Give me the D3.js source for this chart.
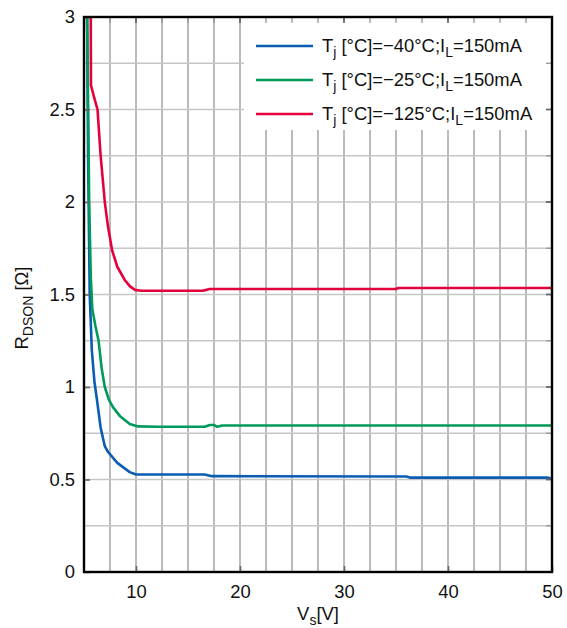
<!DOCTYPE html>
<html>
<head>
<meta charset="utf-8">
<script src="https://cdn.jsdelivr.net/npm/d3@7"></script>
<style>
  body { margin: 0; background: #fff; }
  text { font-family: "Liberation Sans", Arial, sans-serif; fill: #111; }
</style>
</head>
<body>
<svg></svg>
<script>
// R_DSON vs V_s
const blueData = [[5.3,3.0],[5.4,2.2],[5.55,1.5],[5.75,1.2],[6.0,1.03],[6.25,0.93],[6.6,0.78],[7.0,0.68],[7.3,0.65],[8.2,0.59],[9.4,0.54],[10,0.527],[16.6,0.527],[17.3,0.518],[36,0.516],[36.4,0.51],[49.5,0.51],[50,0.505]];
const greenData = [[5.3,3.0],[5.4,2.5],[5.5,2.0],[5.65,1.6],[5.8,1.42],[6.1,1.33],[6.4,1.25],[6.7,1.1],[7.0,1.0],[7.4,0.93],[7.8,0.89],[8.5,0.84],[9.4,0.80],[10.2,0.787],[12,0.785],[16.6,0.785],[17.1,0.795],[17.5,0.795],[17.8,0.785],[18.3,0.792],[25,0.792],[50,0.792]];
const redData = [[5.65,3.0],[5.67,2.63],[6.0,2.56],[6.3,2.5],[6.6,2.25],[7.0,2.0],[7.3,1.87],[7.7,1.74],[8.2,1.65],[8.9,1.58],[9.4,1.545],[9.9,1.525],[10.5,1.52],[16.4,1.52],[17.1,1.53],[35,1.53],[35.2,1.535],[50,1.535]];

const seriesTemps = ["\u221240", "\u221225", "\u2212125"];
const seriesColors = ["#0a5db3", "#009a5a", "#e4003b"];
const seriesData = [blueData, greenData, redData];

const xTicks = [10, 20, 30, 40, 50];
const yTicks = [0, 0.5, 1, 1.5, 2, 2.5, 3];

let width = 567;
let height = 628;
let pLeft = 84, pRight = 552, pTop = 17, pBottom = 572;
let svg = d3.select('svg').attr('width', width).attr('height', height);

let xScale = d3.scaleLinear().domain([5, 50]).range([pLeft, pRight]);
let yScale = d3.scaleLinear().domain([0, 3]).range([pBottom, pTop]);

const xGrid = d3.range(7.5, 50, 2.5);
const yGrid = d3.range(0.25, 3, 0.25);

// grid
svg.append('g').selectAll('line')
   .data(xGrid).enter().append('line')
   .attr('x1', d => xScale(d)).attr('x2', d => xScale(d))
   .attr('y1', pTop).attr('y2', pBottom)
   .attr('stroke', '#969696').attr('stroke-width', 1.3);

svg.append('g').selectAll('line')
   .data(yGrid).enter().append('line')
   .attr('x1', pLeft).attr('x2', pRight)
   .attr('y1', d => yScale(d)).attr('y2', d => yScale(d))
   .attr('stroke', '#c6c6c6').attr('stroke-width', 1.3);

// curves
const line = d3.line().x(d => xScale(d[0])).y(d => yScale(d[1]));
svg.append('g').selectAll('path')
   .data(seriesData).enter().append('path')
   .attr('d', d => line(d))
   .attr('fill', 'none')
   .attr('stroke', (d, i) => seriesColors[i])
   .attr('stroke-width', 2.6)
   .attr('stroke-linejoin', 'round');

// legend
svg.append('rect')
   .attr('x', 244).attr('y', pTop).attr('width', pRight - 244).attr('height', 113)
   .attr('fill', '#fff');

const legend = svg.append('g');
seriesTemps.forEach((t, i) => {
    let yy = 46 + i * 34;
    legend.append('line')
          .attr('x1', 256).attr('x2', 313).attr('y1', yy).attr('y2', yy)
          .attr('stroke', seriesColors[i]).attr('stroke-width', 2.6);
    let txt = legend.append('text')
          .attr('x', 322).attr('y', yy + 6)
          .style('font-size', '18.4px');
    txt.append('tspan').text('T');
    txt.append('tspan').text('j').attr('dy', 5).style('font-size', '14px');
    txt.append('tspan').text(' [\u00b0C]=' + t + '\u00b0C;I').attr('dy', -5);
    txt.append('tspan').text('L').attr('dy', 5).style('font-size', '14px');
    txt.append('tspan').text('=150mA').attr('dy', -5);
});

// minor tick stubs on top and right edges
svg.append('g').selectAll('line')
   .data(xGrid).enter().append('line')
   .attr('x1', d => xScale(d)).attr('x2', d => xScale(d))
   .attr('y1', pTop).attr('y2', pTop + 6)
   .attr('stroke', '#969696').attr('stroke-width', 1.3);
svg.append('g').selectAll('line')
   .data(yGrid).enter().append('line')
   .attr('x1', pRight - 6).attr('x2', pRight)
   .attr('y1', d => yScale(d)).attr('y2', d => yScale(d))
   .attr('stroke', '#969696').attr('stroke-width', 1.3);
svg.append('g').selectAll('line')
   .data(xTicks).enter().append('line')
   .attr('x1', d => xScale(d)).attr('x2', d => xScale(d))
   .attr('y1', pTop).attr('y2', pTop + 6)
   .attr('stroke', '#666').attr('stroke-width', 1.6);
svg.append('g').selectAll('line')
   .data(yTicks).enter().append('line')
   .attr('x1', pRight - 6).attr('x2', pRight)
   .attr('y1', d => yScale(d)).attr('y2', d => yScale(d))
   .attr('stroke', '#666').attr('stroke-width', 1.6);

// axes
let xAxis = d3.axisBottom(xScale).tickValues(xTicks).tickSize(-6).tickPadding(13)
              .tickFormat(d3.format('~g'));
let yAxis = d3.axisLeft(yScale).tickValues(yTicks).tickSize(-6).tickPadding(9)
              .tickFormat(d3.format('~g'));

let gx = svg.append('g')
   .attr('transform', 'translate(0,' + pBottom + ')')
   .call(xAxis);
let gy = svg.append('g')
   .attr('transform', 'translate(' + pLeft + ',0)')
   .call(yAxis);
[gx, gy].forEach(g => {
    g.select('.domain').remove();
    g.selectAll('.tick line').attr('stroke', '#666').attr('stroke-width', 1.6);
    g.selectAll('.tick text').style('font-size', '18.4px').attr('fill', '#111')
     .style('font-family', '"Liberation Sans", Arial, sans-serif');
});

// frame
svg.append('rect')
   .attr('x', pLeft).attr('y', pTop).attr('width', pRight - pLeft).attr('height', pBottom - pTop)
   .attr('fill', 'none').attr('stroke', '#000').attr('stroke-width', 2.4);

// axis titles
let xt = svg.append('text')
   .attr('x', (pLeft + pRight) / 2).attr('y', 620)
   .attr('text-anchor', 'middle').style('font-size', '18.4px');
xt.append('tspan').text('V');
xt.append('tspan').text('s').attr('dy', 5).style('font-size', '14px');
xt.append('tspan').text('[V]').attr('dy', -5);

let yt = svg.append('text')
   .attr('transform', 'translate(28,308) rotate(-90)')
   .attr('text-anchor', 'middle').style('font-size', '18.4px');
yt.append('tspan').text('R');
yt.append('tspan').text('DSON').attr('dy', 5).style('font-size', '14px');
yt.append('tspan').text(' [\u03a9]').attr('dy', -5);
</script>
</body>
</html>
